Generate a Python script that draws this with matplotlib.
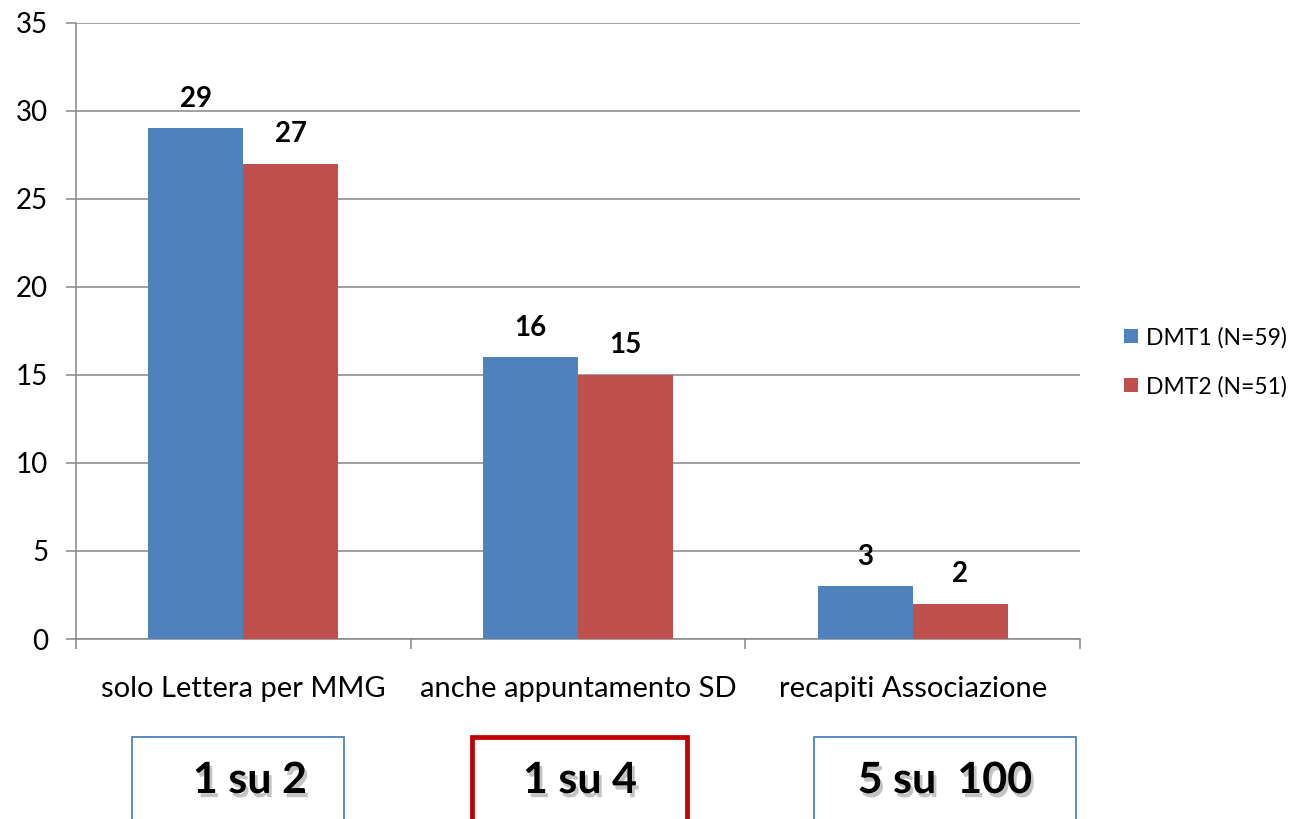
import matplotlib
matplotlib.use("Agg")
import matplotlib.pyplot as plt
import matplotlib.patheffects as pe
from matplotlib.patches import Rectangle
import numpy as np

categories = ["solo Lettera per MMG", "anche appuntamento SD", "recapiti Associazione"]
series_names = ["DMT1 (N=59)", "DMT2 (N=51)"]
dmt1 = [29, 16, 3]
dmt2 = [27, 15, 2]
summaries = ["1 su 2", "1 su 4", "5 su  100"]

BLUE = "#4F81BD"
RED = "#C0504D"
GRID = "#868686"

plt.rcParams["font.family"] = ["Lato", "DejaVu Sans"]

W, H = 1293, 819
fig = plt.figure(figsize=(W / 100, H / 100), dpi=100)
ax = fig.add_axes([76 / W, 1 - 639 / H, (1080 - 76) / W, (639 - 22.7) / H])

x = np.arange(len(categories))
bw = 0.284
b1 = ax.bar(x - bw / 2, dmt1, bw, color=BLUE, label=series_names[0], zorder=3)
b2 = ax.bar(x + bw / 2, dmt2, bw, color=RED, label=series_names[1], zorder=3)

for bars, vals in ((b1, dmt1), (b2, dmt2)):
    for rect, v in zip(bars, vals):
        ax.annotate(str(v), (rect.get_x() + rect.get_width() / 2, v),
                    xytext=(0, 12), textcoords="offset points",
                    ha="center", va="bottom", fontsize=20, fontweight="bold")

ax.set_xlim(-0.5, len(categories) - 0.5)
ax.set_ylim(0, 35)
ax.set_yticks(np.arange(0, 36, 5))
ax.yaxis.grid(True, color=GRID, linewidth=1.1, zorder=0)
ax.set_axisbelow(True)

ax.set_xticks(x)
ax.set_xticklabels(categories, fontsize=21)
ax.tick_params(axis="x", length=0, pad=27)
ax.set_xticks(np.arange(-0.5, len(categories)), minor=True)
ax.tick_params(axis="x", which="minor", length=7, width=1.1, color=GRID)
ax.tick_params(axis="y", length=7, width=1.1, color=GRID, labelsize=20, pad=13)

for s in ("top", "right"):
    ax.spines[s].set_visible(False)
for s in ("left", "bottom"):
    ax.spines[s].set_color(GRID)
    ax.spines[s].set_linewidth(1.1)

fig.legend(handles=[b1, b2], labels=series_names, loc="center left",
           bbox_to_anchor=(1113 / W, 1 - 362 / H), frameon=False,
           fontsize=16.5, handlelength=0.6, handleheight=0.6,
           handletextpad=0.35, labelspacing=1.2, borderpad=0)

# summary boxes under each category
boxes = [(132, 344, BLUE, 1.3), (472, 687, "#C00000", 3.4), (814, 1076, BLUE, 1.3)]
text_cx = [250, 580, 945]
for (x0, x1, col, lw), txt, cx in zip(boxes, summaries, text_cx):
    rect = Rectangle((x0 / W, -40 / H), (x1 - x0) / W, (H + 40 - 737) / H,
                     transform=fig.transFigure, fill=False, edgecolor=col,
                     linewidth=lw, clip_on=False)
    fig.add_artist(rect)
    fig.text(cx / W, 1 - 780 / H, txt, ha="center", va="center",
             fontsize=31, fontweight="bold",
             path_effects=[pe.withSimplePatchShadow(offset=(2, -3),
                                                   shadow_rgbFace="#555555",
                                                   alpha=0.35)])

fig.savefig("out.png", dpi=100, facecolor="white")
